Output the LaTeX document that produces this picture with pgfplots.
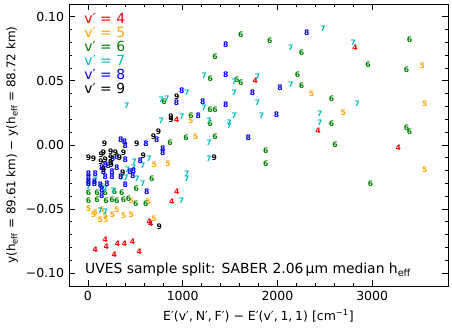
\documentclass[border=0pt]{standalone}
\usepackage{fontspec}
\setmainfont{DejaVu Sans}
\usepackage{pgfplots}
\pgfplotsset{compat=1.18}

\definecolor{mplred}{RGB}{255,0,0}
\definecolor{mplorange}{RGB}{255,165,0}
\definecolor{mplgreen}{RGB}{0,128,0}
\definecolor{mplcyan}{RGB}{0,191,191}
\definecolor{mplblue}{RGB}{0,0,255}

\pgfplotsset{
    digit/.style={only marks, mark=text, text mark={#1}, text mark as node=true,
        text mark style={font=\fontsize{5.5}{5.5}\selectfont\bfseries, inner sep=0pt, anchor=center}},
}

\begin{document}
\begin{tikzpicture}
\begin{axis}[
    scale only axis,
    width=272.9pt, height=203pt,
    xmin=-200, xmax=3800,
    ymin=-0.11, ymax=0.11,
    xtick={0,1000,2000,3000},
    xticklabels={0,1000,2000,3000},
    ytick={-0.1,-0.05,0,0.05,0.1},
    yticklabels={−0.10,−0.05,0.00,0.05,0.10},
    minor x tick num=4,
    minor y tick num=4,
    tick align=inside,
    major tick length=4pt,
    minor tick length=2pt,
    every tick/.style={black, line width=0.6pt},
    axis line style={line width=0.6pt},
    tick label style={font=\fontsize{9}{10}\selectfont},
    xlabel={E′(v′,\hspace{0.22em}N′,\hspace{0.22em}F′) − E′(v′,\hspace{0.22em}1,\hspace{0.22em}1) [cm\textsuperscript{−1}]},
    ylabel={y(h\textsubscript{eff} = 89.61 km) − y(h\textsubscript{eff} = 88.72 km)},
    xlabel style={font=\fontsize{9}{10}\selectfont, at={(axis description cs:0.5,-0.105)}, anchor=center},
    ylabel style={font=\fontsize{8.6}{10}\selectfont, at={(axis description cs:-0.150,0.5)}, anchor=center},
    clip=false,
]

% v' = 4
\addplot[digit=4, color=mplred] coordinates {
(937,0.0199) (1765,0.0499) (2818,0.0762) (2428,0.0112) (3275,-0.0020)
(937,-0.0363) (885,-0.0441) (663,-0.0617) (646,-0.0599) (182,-0.0739)
(193,-0.0791) (77,-0.0815) (312,-0.0770) (385,-0.0770) (470,-0.0757)
(277,-0.0854) (543,-0.0830)
};

% v' = 5
\addplot[digit=5, color=mplorange] coordinates {
(1085,0.0188) (1135,0.0062) (2359,0.0396) (2696,0.0252) (3528,0.0619)
(3555,0.0320) (3555,-0.0192) (700,-0.0151) (846,-0.0143) (638,-0.0441)
(698,-0.0576) (6,-0.0498) (77,-0.0529) (59,-0.0547) (147,-0.0508)
(182,-0.0555) (130,-0.0581) (187,-0.0587) (259,-0.0547) (305,-0.0503)
(375,-0.0555) (456,-0.0547) (456,-0.0438)
};

% v' = 6
\addplot[digit=6, color=mplgreen] coordinates {
(1340,0.0689) (1291,0.0517) (803,0.0341) (1288,0.0273) (1340,0.0279)
(1088,0.0232) (1288,0.0164) (867,0.0019) (1035,0.0058) (1340,0.0063)
(1614,0.0858) (1920,0.0813) (2253,0.0720) (3394,0.0819) (2955,0.0624)
(3362,0.0585) (1572,0.0513) (1614,0.0486) (2211,0.0546) (2253,0.0460)
(2572,0.0359) (2572,0.0162) (3362,0.0131) (3394,0.0104) (2607,0.0001)
(1877,-0.0044) (1877,-0.0147) (2983,-0.0303) (674,-0.0264) (509,-0.0344)
(505,-0.0459) (611,-0.0459) (6,-0.0373) (95,-0.0373) (182,-0.0373)
(280,-0.0368) (358,-0.0373) (6,-0.0435) (95,-0.0425) (190,-0.0435)
(253,-0.0430) (305,-0.0435) (375,-0.0430) (428,-0.0420) (147,-0.0326)
};

% v' = 7
\addplot[digit=7, color=mplcyan] coordinates {
(411,0.0310) (1228,0.0538) (1042,0.0404) (775,0.0351) (832,0.0359)
(1225,0.0287) (990,0.0221) (1277,0.0190) (775,0.0190) (1277,0.0019)
(1277,-0.0108) (645,-0.0108) (488,-0.0129) (579,-0.0163) (417,-0.0194)
(480,-0.0181) (519,-0.0264) (403,-0.0259) (579,-0.0303) (1042,-0.0221)
(1042,-0.0260) (988,-0.0434) (77,-0.0270) (6,-0.0329) (130,-0.0511)
(182,-0.0521) (270,-0.0355) (182,-0.0342) (358,-0.0259)
(2481,0.0910) (2141,0.0759) (2801,0.0798) (1544,0.0494) (1790,0.0533)
(2141,0.0474) (1544,0.0404) (1790,0.0330) (2843,0.0320) (1544,0.0229)
(1832,0.0227) (2446,0.0242) (1491,0.0174) (1491,0.0149) (2446,0.0170)
};

% v' = 8
\addplot[digit=8, color=mplblue] coordinates {
(1456,0.0785) (990,0.0425) (935,0.0326) (1211,0.0336) (1165,0.0232)
(727,0.0040) (347,0.0040) (393,-0.0002) (614,0.0006) (790,-0.0026)
(790,-0.0059) (259,-0.0111) (393,-0.0116) (2309,0.0879) (1456,0.0546)
(2028,0.0447) (1737,0.0404) (1456,0.0312) (1990,0.0234) (1691,0.0058)
(551,-0.0122) (480,-0.0199) (474,-0.0241) (621,-0.0368) (305,-0.0090)
(6,-0.0259) (6,-0.0290) (6,-0.0225) (77,-0.0225) (70,-0.0285)
(147,-0.0181) (164,-0.0207) (182,-0.0246) (130,-0.0308) (200,-0.0303)
(253,-0.0207) (253,-0.0246) (347,-0.0246) (445,-0.0207) (393,-0.0308)
(147,-0.0399) (70,-0.0303) (6,-0.0303) (214,-0.0163) (305,-0.0178)
(385,0.0026) (147,-0.0350) (182,-0.0155)
};

% v' = 9
\addplot[digit=9, color=black] coordinates {
(175,0.0006) (516,0.0012) (375,-0.0064) (242,-0.0051) (164,-0.0064)
(6,-0.0103) (59,-0.0108) (242,-0.0103) (242,-0.0142) (182,-0.0116)
(137,-0.0129) (333,-0.0103) (585,-0.0085) (746,0.0100) (691,0.0061)
(877,0.0221) (877,0.0199) (937,0.0375) (368,-0.0215) (164,-0.0194)
(1333,-0.0103) (754,-0.0636) (290,-0.0059) (140,-0.0077) (245,-0.0155)
};

\begin{scope}[every node/.style={anchor=west, inner sep=0pt, font=\fontsize{10}{11}\selectfont}]
\node[text=mplred]    at (axis description cs:0.040,0.949) {v′ = 4};
\node[text=mplorange] at (axis description cs:0.040,0.899) {v′ = 5};
\node[text=mplgreen]  at (axis description cs:0.040,0.849) {v′ = 6};
\node[text=mplcyan]   at (axis description cs:0.040,0.799) {v′ = 7};
\node[text=mplblue]   at (axis description cs:0.040,0.749) {v′ = 8};
\node[text=black]     at (axis description cs:0.040,0.699) {v′ = 9};
\node at (axis description cs:0.042,0.058) {UVES sample split: SABER 2.06\,µm median h\textsubscript{eff}};
\end{scope}
\end{axis}
\path (current axis.south west) ++(-49.7pt,-30.2pt);
\path (current axis.north east) ++(2.9pt,2.9pt);
\end{tikzpicture}
\end{document}
